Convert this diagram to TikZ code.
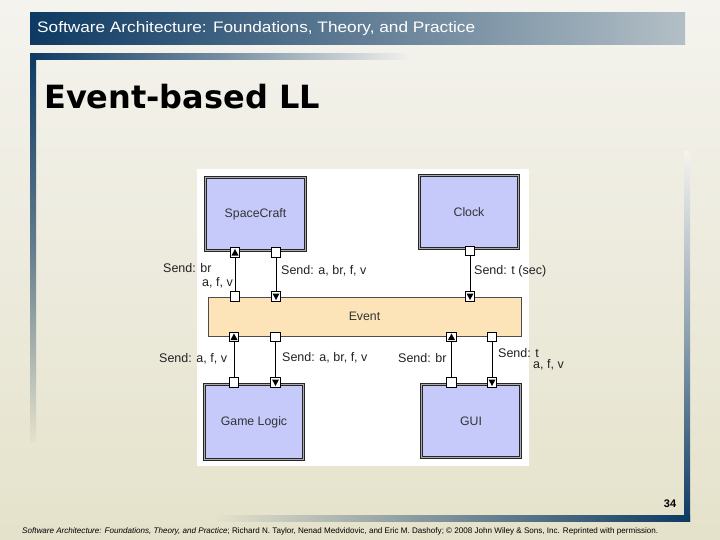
\documentclass[tikz,border=0pt]{standalone}
\usepackage{fontspec}
\setmainfont{Liberation Sans}
\newfontfamily\titlefont{DejaVu Sans}
\definecolor{bgtop}{HTML}{F4F3EE}
\definecolor{bgbot}{HTML}{E5E2CB}
\definecolor{navy}{HTML}{0D3A63}
\definecolor{banR}{HTML}{B3BFC6}
\definecolor{lav}{HTML}{C5CAFB}
\definecolor{evfill}{HTML}{FCE4B8}
\definecolor{txt}{HTML}{222222}
\tikzset{
  comp/.style={draw=black!85, line width=0.7pt, double=gray!65, double distance=1.1pt,
    fill=lav, inner sep=0pt, font=\fontsize{12.3}{14}\selectfont, text=black!80},
  port/.style={draw=black, line width=0.7pt, fill=white, minimum size=9.5pt, inner sep=0pt},
  portup/.style={port, path picture={\fill[black] ([yshift=3.5pt]path picture bounding box.center)
      -- ([xshift=-3.5pt,yshift=-3pt]path picture bounding box.center)
      -- ([xshift=3.5pt,yshift=-3pt]path picture bounding box.center) -- cycle;}},
  portdown/.style={port, path picture={\fill[black] ([yshift=-3.5pt]path picture bounding box.center)
      -- ([xshift=-3.5pt,yshift=3pt]path picture bounding box.center)
      -- ([xshift=3.5pt,yshift=3pt]path picture bounding box.center) -- cycle;}},
  conn/.style={draw=black, line width=0.8pt},
  lbl/.style={font=\fontsize{12.5}{14}\selectfont, text=txt, inner sep=0pt},
}
\begin{document}
\begin{tikzpicture}[x=1pt,y=-1pt]
\useasboundingbox (0,0) rectangle (720,540);
\shade[top color=bgtop, bottom color=bgbot] (0,0) rectangle (720,540);
% header banner
\shade[left color=navy, right color=banR] (30,13) rectangle (685,45);
\node[anchor=west, inner sep=0pt, text=white] (hdr) at (37,29)
  {\resizebox{438pt}{11pt}{Software Architecture: Foundations, Theory, and Practice}};
% title frame
\shade[left color=navy, right color=bgtop, middle color=navy!55!bgtop] (30,54) rectangle (413,60);
\shade[top color=navy, bottom color=bgbot, middle color=navy!60!bgbot] (30,54) rectangle (36,442);
\node[anchor=west, inner sep=0pt, font=\titlefont\bfseries\fontsize{32}{36}\selectfont] (title) at (44,97) {Event-based LL};
% bottom-right frame
\shade[top color=bgtop, bottom color=navy, middle color=navy!45!bgtop] (684,152) rectangle (690,521);
\shade[left color=bgbot, right color=navy, middle color=navy!50!bgbot] (215,515) rectangle (690,521);
\node[inner sep=0pt, font=\bfseries\fontsize{11}{12}\selectfont] (pg) at (670,504) {34};
\node[anchor=west, inner sep=0pt] (foot) at (22,531)
  {\resizebox{636pt}{!}{\fontsize{7}{8}\selectfont\textit{Software Architecture: Foundations, Theory, and Practice}; Richard N. Taylor, Nenad Medvidovic, and Eric M. Dashofy; \textcopyright{} 2008 John Wiley \& Sons, Inc. Reprinted with permission.}};
% diagram panel
\fill[white] (197,169) rectangle (529,466);
% components
\node[comp, minimum width=100.4pt, minimum height=73.4pt] (sc) at (255.5,214) {SpaceCraft};
\node[comp, minimum width=99.4pt, minimum height=73.4pt] (clk) at (469,212) {Clock};
\node[comp, minimum width=99.4pt, minimum height=75.4pt] (gl) at (254,422) {Game Logic};
\node[comp, minimum width=99.4pt, minimum height=73.4pt] (gui) at (471,421) {GUI};
\node[draw=black!70, line width=0.8pt, fill=evfill, minimum width=313pt, minimum height=39pt,
  inner sep=0pt, font=\fontsize{12.3}{14}\selectfont, text=black!80] (ev) at (364.5,316.5) {Event};
% ports
\node[portup] (sc1) at (235,252.5) {};
\node[port] (sc2) at (276,252.5) {};
\node[port] (clk1) at (470,251) {};
\node[port] (evt1) at (235,296.5) {};
\node[portdown] (evt2) at (276,296.5) {};
\node[portdown] (evt3) at (470,296.5) {};
\node[portup] (evb1) at (234,337) {};
\node[port] (evb2) at (275.5,337) {};
\node[portup] (evb3) at (451.5,337) {};
\node[port] (evb4) at (492,337) {};
\node[port] (gl1) at (234,382.5) {};
\node[portdown] (gl2) at (275.5,382.5) {};
\node[port] (gui1) at (451.5,382.5) {};
\node[portdown] (gui2) at (492,382.5) {};
% connectors
\draw[conn] (sc1) -- (evt1);
\draw[conn] (sc2) -- (evt2);
\draw[conn] (clk1) -- (evt3);
\draw[conn] (evb1) -- (gl1);
\draw[conn] (evb2) -- (gl2);
\draw[conn] (evb3) -- (gui1);
\draw[conn] (evb4) -- (gui2);
% labels
\node[lbl, anchor=west] (l1) at (163,268) {Send: br};
\node[lbl, anchor=west] (l2) at (202,283) {a, f, v};
\node[lbl, anchor=west] (l3) at (281,271) {Send: a, br, f, v};
\node[lbl, anchor=west] (l4) at (474,271) {Send: t (sec)};
\node[lbl, anchor=west] (l5) at (159,358.5) {Send: a, f, v};
\node[lbl, anchor=west] (l6) at (282,357.5) {Send: a, br, f, v};
\node[lbl, anchor=west] (l7) at (398,358) {Send: br};
\node[lbl, anchor=west] (l8) at (498,353) {Send: t};
\node[lbl, anchor=west] (l9) at (533,365) {a, f, v};
\end{tikzpicture}
\end{document}
